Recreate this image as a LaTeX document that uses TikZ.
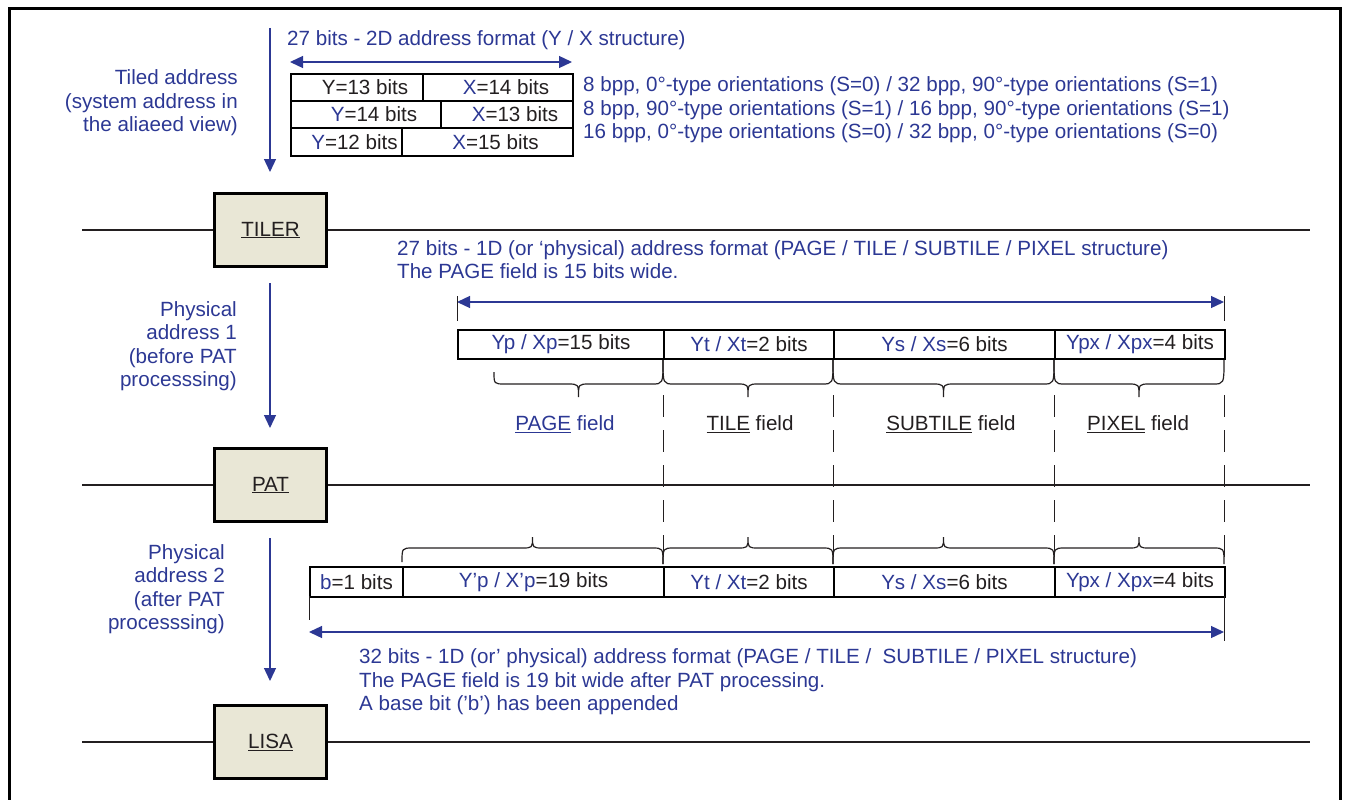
\documentclass[tikz,border=0pt]{standalone}
\usepackage{fontspec}
\setmainfont{Liberation Sans}
\usetikzlibrary{arrows.meta}
\definecolor{tblue}{RGB}{44,56,148}
\definecolor{tbeige}{RGB}{233,231,214}
\definecolor{tdark}{RGB}{35,31,32}
\newcommand{\bl}[1]{\textcolor{tblue}{#1}}
% xa, xb, y at left end, y at right end, y of middle line, y of tip
\newcommand{\mybrace}[6]{%
  \draw[bracestyle] (#1,#3) .. controls (#1,#5) .. ({#1+11},#5)
    -- ({(#1+#2)/2-11},#5) .. controls ({(#1+#2)/2},#5) .. ({(#1+#2)/2},#6)
    .. controls ({(#1+#2)/2},#5) .. ({(#1+#2)/2+11},#5)
    -- ({#2-11},#5) .. controls (#2,#5) .. (#2,#4);}
\tikzset{
  every node/.style={font=\fontsize{20.6}{23.4}\selectfont, inner sep=0pt},
  outerframe/.style={line width=3pt, black},
  blk/.style={draw=black, line width=3pt, fill=tbeige, minimum width=112pt, minimum height=73pt, text=tdark},
  hline/.style={line width=1.1pt, tdark},
  bitcell/.style={draw=black, line width=2pt, anchor=north west, text=tdark},
  txt/.style={text=tblue, align=left},
  arr/.style={tblue, line width=1.3pt, -{Triangle[length=13pt,width=12pt]}},
  darr/.style={tblue, line width=1.3pt, {Triangle[length=13pt,width=12pt]}-{Triangle[length=13pt,width=12pt]}},
  tickline/.style={line width=1pt, tdark},
  dashline/.style={line width=1pt, tdark, dash pattern=on 22pt off 13pt},
  bracestyle/.style={line width=1.2pt, tdark},
}
\begin{document}
\begin{tikzpicture}[x=1pt,y=-1pt]
\useasboundingbox (0,0) rectangle (1346,800);
\draw[outerframe] (9,802) -- (9,9) -- (1340,9) -- (1340,802);

% ---- unit boxes and bus lines
\node[blk] (tiler) at (270.5,230) {\underline{TILER}};
\node[blk] (pat)   at (270.5,485) {\underline{PAT}};
\node[blk] (lisa)  at (270.5,742) {\underline{LISA}};
\coordinate (h1a) at (82,230);  \coordinate (h1b) at (1310,230);
\coordinate (h2a) at (82,485);  \coordinate (h2b) at (1310,485);
\coordinate (h3a) at (82,742);  \coordinate (h3b) at (1310,742);
\draw[hline] (h1a) -- (tiler.west); \draw[hline] (tiler.east) -- (h1b);
\draw[hline] (h2a) -- (pat.west);   \draw[hline] (pat.east) -- (h2b);
\draw[hline] (h3a) -- (lisa.west);  \draw[hline] (lisa.east) -- (h3b);

% ---- vertical flow arrows
\coordinate (v1a) at (270,28);  \coordinate (v1b) at (270,172);
\coordinate (v2a) at (270,283); \coordinate (v2b) at (270,428);
\coordinate (v3a) at (270,538); \coordinate (v3b) at (270,681);
\draw[arr] (v1a) -- (v1b);
\draw[arr] (v2a) -- (v2b);
\draw[arr] (v3a) -- (v3b);

% ---- left labels
\node[txt, align=right, anchor=east] (tiled) at (238,103) {Tiled address\\(system address in\\the aliaeed view)};
\node[txt, align=right, anchor=east] (pa1) at (237,346) {Physical\\address 1\\(before PAT\\processsing)};
\node[txt, align=right, anchor=east] (pa2) at (225,589) {Physical\\address 2\\(after PAT\\processsing)};

% ---- 2D address block
\node[txt, anchor=west] (t2d) at (287,40) {27 bits - 2D address format (Y / X structure)};
\coordinate (a2a) at (290,62); \coordinate (a2b) at (572,62);
\draw[darr] (a2a) -- (a2b);
\node[bitcell, minimum width=132pt, minimum height=27pt] (y13) at (290,73)  {\hspace*{16pt}Y=13 bits};
\node[bitcell, minimum width=150pt, minimum height=27pt] (x14) at (422,73)  {\hspace*{16pt}\bl{X}=14 bits};
\node[bitcell, minimum width=150pt, minimum height=27pt] (y14) at (290,100) {\hspace*{16pt}\bl{Y}=14 bits};
\node[bitcell, minimum width=132pt, minimum height=27pt] (x13) at (440,100) {\hspace*{16pt}\bl{X}=13 bits};
\node[bitcell, minimum width=111pt, minimum height=28pt] (y12) at (290,127) {\hspace*{16pt}\bl{Y}=12 bits};
\node[bitcell, minimum width=171pt, minimum height=28pt] (x15) at (401,127) {\hspace*{16pt}\bl{X}=15 bits};
\node[txt, anchor=west] (orient) at (583,110) {8 bpp, 0°-type orientations (S=0) / 32 bpp, 90°-type orientations (S=1)\\8 bpp, 90°-type orientations (S=1) / 16 bpp, 90°-type orientations (S=1)\\16 bpp, 0°-type orientations (S=0) / 32 bpp, 0°-type orientations (S=0)};

% ---- physical address 1
\node[txt, anchor=west] (t1d) at (397,259.5) {27 bits - 1D (or ‘physical) address format (PAGE / TILE / SUBTILE / PIXEL structure)\\The PAGE field is 15 bits wide.};
\coordinate (a1a) at (457,302); \coordinate (a1b) at (1224,302);
\draw[darr] (a1a) -- (a1b);
\draw[tickline] (457,296) -- (457,321);
\draw[tickline] (1224,296) -- (1224,321);
\node[bitcell, minimum width=206pt, minimum height=29pt] (p1) at (457,329)  {\bl{Yp / Xp}=15 bits};
\node[bitcell, minimum width=170pt, minimum height=29pt] (t1) at (663,329)  {\bl{Yt / Xt}=2 bits};
\node[bitcell, minimum width=221pt, minimum height=29pt] (s1) at (833,329)  {\bl{Ys / Xs}=6 bits};
\node[bitcell, minimum width=170pt, minimum height=29pt] (x1) at (1054,329) {\bl{Ypx / Xpx}=4 bits};
\mybrace{494}{663}{372}{360}{384}{397}
\mybrace{663}{833}{360}{360}{384}{397}
\mybrace{833}{1054}{360}{360}{384}{397}
\mybrace{1054}{1224}{360}{360}{384}{397}
\node[text=tblue] (lpage) at (565,424) {\underline{PAGE} field};
\node[text=tdark] (ltile) at (750,424) {\underline{TILE} field};
\node[text=tdark] (lsub)  at (951,424) {\underline{SUBTILE} field};
\node[text=tdark] (lpix)  at (1138,424) {\underline{PIXEL} field};
\foreach \xx in {663,833,1054,1224} {\draw[dashline] (\xx,395) -- (\xx,560);}

% ---- physical address 2
\mybrace{402}{663}{562}{564}{548}{537}
\mybrace{663}{833}{564}{564}{548}{537}
\mybrace{833}{1054}{564}{564}{548}{537}
\mybrace{1054}{1224}{564}{564}{548}{537}
\node[bitcell, minimum width=93pt,  minimum height=30pt] (b2) at (309,566)  {\bl{b}=1 bits};
\node[bitcell, minimum width=261pt, minimum height=30pt] (p2) at (402,566)  {\bl{Y’p / X’p}=19 bits};
\node[bitcell, minimum width=170pt, minimum height=30pt] (t2) at (663,566)  {\bl{Yt / Xt}=2 bits};
\node[bitcell, minimum width=221pt, minimum height=30pt] (s2) at (833,566)  {\bl{Ys / Xs}=6 bits};
\node[bitcell, minimum width=170pt, minimum height=30pt] (x2) at (1054,566) {\bl{Ypx / Xpx}=4 bits};
\draw[tickline] (309,596) -- (309,620);
\draw[tickline] (1224,596) -- (1224,641);
\coordinate (a3a) at (309,632); \coordinate (a3b) at (1224,632);
\draw[darr] (a3a) -- (a3b);
\node[txt, anchor=west] (t32) at (359,682) {32 bits - 1D (or’ physical) address format (PAGE / TILE /\ \ SUBTILE / PIXEL structure)\\The PAGE field is 19 bit wide after PAT processing.\\A base bit (’b’) has been appended};
\end{tikzpicture}
\end{document}
